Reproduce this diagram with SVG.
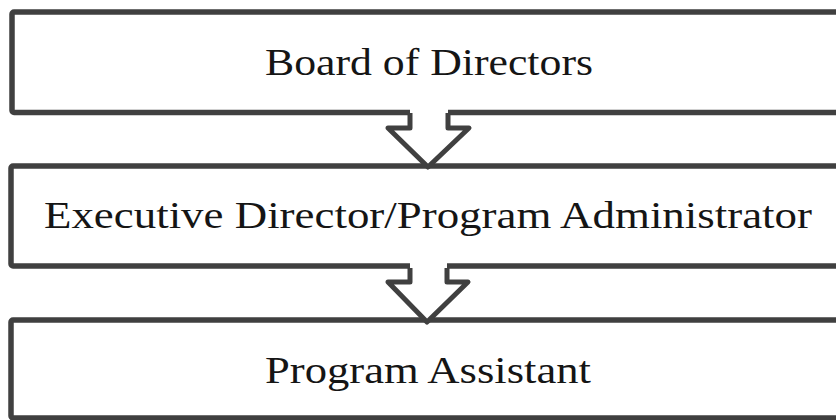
<svg xmlns="http://www.w3.org/2000/svg" width="836" height="420" viewBox="0 0 836 420">
  <style>
    .box { fill: #ffffff; stroke: #404040; stroke-width: 5.5; }
    .lbl { font-family: "Liberation Serif", "DejaVu Serif", serif; font-size: 37px; fill: #151515; text-anchor: middle; }
    .afill { fill: #ffffff; stroke: none; }
    .aline { fill: none; stroke: #404040; stroke-width: 5; stroke-linejoin: round; }
  </style>
  <rect width="836" height="420" fill="#ffffff"/>
  <g id="board">
    <rect class="box" x="12" y="12" width="840" height="100.5" rx="2"/>
    <text class="lbl" x="429" y="75" textLength="328" lengthAdjust="spacingAndGlyphs">Board of Directors</text>
  </g>
  <g id="executive">
    <rect class="box" x="11" y="166" width="840" height="100" rx="2"/>
    <text class="lbl" x="428" y="228" textLength="768" lengthAdjust="spacingAndGlyphs">Executive Director/Program Administrator</text>
  </g>
  <g id="assistant">
    <rect class="box" x="11" y="320" width="840" height="98" rx="2"/>
    <text class="lbl" x="428" y="383" textLength="326" lengthAdjust="spacingAndGlyphs">Program Assistant</text>
  </g>
  <g id="connectors">
    <path class="afill" d="M410,108 L410,128 L388,128 L428,167 L469,128 L448,128 L448,108 Z"/>
    <polyline class="aline" points="410,113 410,128 388,128 428,167 469,128 448,128 448,113"/>
    <path class="afill" d="M410,262 L410,282 L388,282 L427,322 L468,282 L447,282 L447,262 Z"/>
    <polyline class="aline" points="410,268 410,282 388,282 427,322 468,282 447,282 447,268"/>
  </g>
</svg>
